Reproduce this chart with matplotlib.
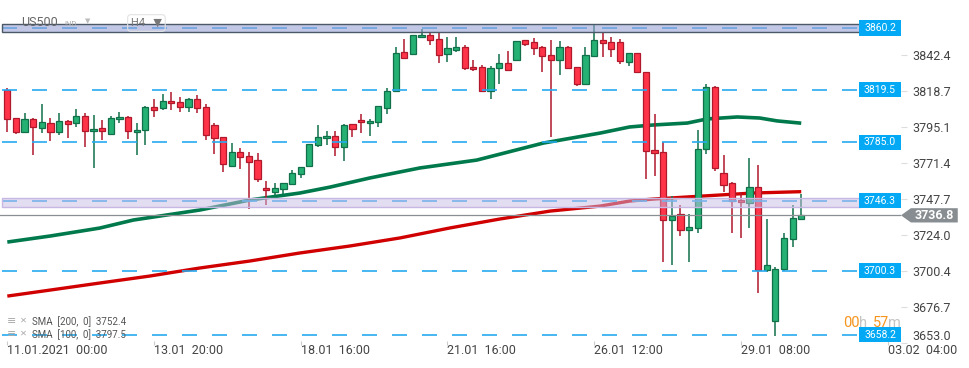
import numpy as np
import matplotlib
matplotlib.use("Agg")
import matplotlib.pyplot as plt
import matplotlib.transforms as mtransforms
from matplotlib.patches import Rectangle, Polygon

plt.rcParams['font.family'] = ['Roboto', 'DejaVu Sans']
plt.rcParams['lines.scale_dashes'] = False

# H4 candles, US500
opens = [3819.4, 3800.7, 3791.5, 3800.0, 3794.1, 3797.4, 3791.5, 3798.7, 3797.4, 3802.0,
         3792.1, 3794.1, 3790.2, 3800.0, 3801.4, 3791.5, 3792.8, 3807.9, 3807.3, 3811.9,
         3811.3, 3807.9, 3813.2, 3807.9, 3796.1, 3788.2, 3769.5, 3778.3, 3775.7, 3773.0,
         3754.6, 3752.4, 3753.9, 3757.2, 3763.8, 3769.1, 3782.9, 3787.5, 3788.8, 3781.6,
         3796.8, 3799.4, 3797.4, 3798.1, 3807.3, 3818.5, 3844.2, 3842.9, 3854.1, 3855.6,
         3852.8, 3842.9, 3845.5, 3847.5, 3834.3, 3834.3, 3818.5, 3833.6, 3836.9, 3838.9,
         3852.1, 3850.8, 3847.5, 3842.2, 3838.9, 3847.5, 3834.3, 3823.1, 3841.6, 3852.1,
         3850.8, 3850.8, 3837.6, 3843.5, 3831.0, 3779.8, 3778.3, 3733.5, 3737.5, 3726.9,
         3728.2, 3780.3, 3821.1, 3764.5, 3757.9, 3746.7, 3744.7, 3755.3, 3700.6, 3667.0,
         3701.2, 3720.9, 3734.2]
highs = [3820.7, 3800.7, 3804.2, 3800.9, 3810.1, 3800.9, 3804.2, 3799.6, 3806.8, 3804.2,
         3802.9, 3799.6, 3802.0, 3804.7, 3802.0, 3797.4, 3808.8, 3813.4, 3816.7, 3818.0,
         3814.7, 3814.1, 3816.1, 3810.1, 3797.4, 3788.2, 3784.2, 3781.0, 3778.3, 3777.7,
         3759.2, 3757.9, 3757.9, 3766.5, 3768.4, 3783.6, 3796.1, 3792.1, 3792.1, 3796.8,
         3796.8, 3803.3, 3800.0, 3808.6, 3820.5, 3847.5, 3852.8, 3855.4, 3859.4, 3857.6,
         3857.6, 3854.1, 3854.1, 3848.8, 3838.9, 3835.6, 3835.0, 3842.9, 3844.9, 3851.4,
         3852.1, 3853.4, 3848.2, 3852.1, 3851.4, 3848.2, 3834.3, 3847.5, 3862.2, 3857.6,
         3854.1, 3852.8, 3843.5, 3843.5, 3831.0, 3803.5, 3785.1, 3749.3, 3743.4, 3737.6,
         3793.0, 3823.1, 3822.0, 3776.3, 3758.6, 3752.0, 3774.4, 3769.8, 3734.2, 3702.5,
         3724.9, 3743.4, 3750.6]
lows = [3791.9, 3790.2, 3790.8, 3776.7, 3790.8, 3786.0, 3789.5, 3787.9, 3794.8, 3782.0,
        3768.2, 3786.6, 3790.2, 3797.4, 3787.3, 3776.7, 3783.3, 3801.4, 3806.0, 3806.0,
        3805.1, 3804.7, 3804.0, 3786.6, 3777.4, 3765.5, 3768.8, 3767.5, 3741.2, 3758.7,
        3743.4, 3750.4, 3750.8, 3757.2, 3761.2, 3769.1, 3781.6, 3782.9, 3775.7, 3772.4,
        3788.2, 3790.8, 3788.8, 3794.8, 3803.3, 3818.5, 3839.6, 3842.2, 3854.1, 3848.8,
        3837.3, 3838.0, 3844.2, 3832.3, 3831.7, 3817.8, 3813.6, 3823.1, 3832.3, 3838.3,
        3848.2, 3842.2, 3831.0, 3788.6, 3829.0, 3833.6, 3821.8, 3823.1, 3840.9, 3840.9,
        3840.9, 3836.3, 3835.0, 3831.0, 3760.5, 3762.9, 3706.2, 3703.9, 3723.4, 3706.2,
        3725.0, 3777.0, 3765.8, 3752.0, 3725.4, 3721.7, 3728.2, 3685.4, 3699.3, 3657.1,
        3699.9, 3715.7, 3733.5]
closes = [3800.0, 3791.5, 3800.0, 3794.8, 3798.1, 3791.5, 3798.7, 3796.8, 3802.0, 3792.1,
          3793.5, 3792.1, 3800.7, 3801.4, 3792.1, 3792.8, 3807.9, 3806.0, 3811.9, 3810.6,
          3807.9, 3813.2, 3807.3, 3789.5, 3787.5, 3770.4, 3778.3, 3775.0, 3771.7, 3760.9,
          3753.3, 3754.6, 3757.9, 3764.4, 3768.4, 3783.6, 3788.2, 3788.8, 3781.6, 3796.1,
          3793.5, 3798.1, 3798.7, 3808.6, 3818.5, 3843.5, 3840.2, 3855.4, 3855.6, 3852.1,
          3842.2, 3846.8, 3847.5, 3833.6, 3833.0, 3818.5, 3833.6, 3836.9, 3832.3, 3851.4,
          3849.5, 3846.8, 3841.6, 3838.9, 3847.5, 3833.6, 3823.1, 3842.2, 3852.1, 3850.1,
          3846.2, 3838.3, 3843.5, 3831.0, 3779.2, 3777.6, 3733.5, 3736.5, 3726.9, 3728.9,
          3780.3, 3821.1, 3767.8, 3756.6, 3746.0, 3745.4, 3755.3, 3700.6, 3703.9, 3701.2,
          3721.6, 3734.8, 3736.8]

# moving averages, read at a few candle positions
sma100_idx = [0, 5, 10.7, 14.6, 22.3, 28.1, 33.9, 37.4, 42, 47.8, 54.4, 62.1, 68.7,
              72.1, 74.8, 78.8, 81.1, 84.6, 87.2, 89.2, 92]
sma100_val = [3719.2, 3723.2, 3728.4, 3733.7, 3740.3, 3746.9, 3751.5, 3755.4, 3761.4,
              3768.0, 3773.2, 3784.4, 3791.0, 3795.0, 3796.3, 3797.6, 3800.3, 3801.6,
              3800.9, 3799.0, 3797.5]
sma200_idx = [0, 5, 10.7, 16.5, 22.3, 28.1, 33.9, 39.7, 45.5, 51.3, 57.1, 62.9, 68.7,
              72.1, 74.8, 78.8, 82.6, 86.4, 92]
sma200_val = [3683.6, 3687.6, 3692.2, 3696.8, 3702.1, 3706.7, 3712.0, 3716.6, 3721.9,
              3728.5, 3734.4, 3739.6, 3742.9, 3746.2, 3747.5, 3748.9, 3750.2, 3751.5, 3752.4]

levels = [3860.2, 3819.5, 3785.0, 3746.3, 3700.3, 3658.2]
zone_top = [3857.8, 3863.0]
zone_mid = [3742.5, 3748.4]
last_price = 3736.8

ytick_vals = [3842.4, 3818.7, 3795.1, 3771.4, 3747.7, 3724.0, 3700.4, 3676.7, 3653.0]
xtick_pos = [0, 17, 34, 51, 68, 85, 102]
xtick_lab = ['11.01.2021  00:00', '13.01  20:00', '18.01  16:00', '21.01  16:00',
             '26.01  12:00', '29.01  08:00', '03.02  04:00']

fig = plt.figure(figsize=(9.7, 3.68), dpi=100)
ax = fig.add_axes([0, 25.3 / 368, 901 / 970, 342.7 / 368])
ax.set_xlim(-0.846, 103.56)
ax.set_ylim(3652.9, 3878.65)
for s in ax.spines.values():
    s.set_visible(False)

blend = mtransforms.blended_transform_factory(ax.transAxes, ax.transData)

# candles
o = np.array(opens); h = np.array(highs); l = np.array(lows); c = np.array(closes)
x = np.arange(len(o))
up = c >= o
red_f, red_e = '#ff3448', '#b0192c'
grn_f, grn_e = '#25b173', '#11704a'
ax.vlines(x[up], l[up], h[up], color=grn_e, lw=1.1, zorder=3)
ax.vlines(x[~up], l[~up], h[~up], color=red_e, lw=1.1, zorder=3)
bh = np.maximum(np.abs(c - o), 1.0)
ax.bar(x[up], bh[up], bottom=np.minimum(o, c)[up], width=0.72,
       color=grn_f, edgecolor=grn_e, linewidth=0.9, zorder=4)
ax.bar(x[~up], bh[~up], bottom=np.minimum(o, c)[~up], width=0.72,
       color=red_f, edgecolor=red_e, linewidth=0.9, zorder=4)

# SMA lines
ax.plot(sma200_idx, sma200_val, color='#d10000', lw=2.4, zorder=2, solid_capstyle='butt')
ax.plot(sma100_idx, sma100_val, color='#007a4c', lw=2.6, zorder=2, solid_capstyle='butt')

# horizontal levels
x0, x1 = -0.61, 98.6
for lv in levels:
    ax.plot([x0, x1], [lv, lv], color='#27aaf0', lw=1.2, ls=(0, (10.8, 10.8)), zorder=5)

# zones
ax.add_patch(Rectangle((x0, zone_top[0]), 98.9 - x0, zone_top[1] - zone_top[0],
                       facecolor='#9aa2d6', alpha=0.6, edgecolor='none', zorder=6))
ax.add_patch(Rectangle((x0, zone_top[0]), 98.9 - x0, zone_top[1] - zone_top[0],
                       facecolor='none', edgecolor='#4b5868', lw=1.0, zorder=6))
ax.add_patch(Rectangle((x0, zone_mid[0]), 98.9 - x0, zone_mid[1] - zone_mid[0],
                       facecolor='#c9bde6', alpha=0.5, edgecolor='none', zorder=6))
ax.add_patch(Rectangle((x0, zone_mid[0]), 98.9 - x0, zone_mid[1] - zone_mid[0],
                       facecolor='none', edgecolor='#c6b8e2', lw=1.0, zorder=6))

# current price line + tag
ax.axhline(last_price, color='#8a8f93', lw=0.9, zorder=5)
ax.add_patch(Polygon([(1.0, last_price), (1.011, last_price + 4.7), (1.063, last_price + 4.7),
                      (1.063, last_price - 4.7), (1.011, last_price - 4.7)], closed=True,
                     transform=blend, facecolor='#878d91', edgecolor='none',
                     clip_on=False, zorder=9))
ax.text(1.037, last_price, f'{last_price:.1f}', transform=blend, ha='center', va='center',
        color='white', fontsize=9, fontweight='bold', clip_on=False, zorder=10)

# level tags
for lv in levels:
    ax.add_patch(Rectangle((859 / 901, lv - 4.95), 42 / 901, 9.9, transform=blend,
                           facecolor='#03a9f4', edgecolor='none', zorder=8, clip_on=False))
    ax.text(880 / 901, lv, f'{lv:.1f}', transform=blend, ha='center', va='center',
            color='white', fontsize=7.5, zorder=9)

# axes ticks
ax.yaxis.tick_right()
ax.set_yticks(ytick_vals)
ax.set_yticklabels([f'{v:.1f}' for v in ytick_vals])
ax.tick_params(axis='y', length=4, width=0.8, color='#dddddd', pad=4,
               labelsize=9, labelcolor='#444444')
ax.get_yticklabels()[-1].set_va('bottom')
ax.set_xticks(xtick_pos)
ax.set_xticklabels(xtick_lab, ha='left')
ax.tick_params(axis='x', length=3, width=0.8, color='#cccccc', pad=-0.5,
               labelsize=9, labelcolor='#444444', direction='inout')

# header
fig.text(21 / 970, 1 - 23 / 368, 'US500', fontsize=9, color='#666666', va='center')
fig.text(64 / 970, 1 - 24 / 368, 'IND', fontsize=5.5, color='#aaaaaa', va='center')
fig.text(85 / 970, 1 - 22 / 368, '▼', fontsize=5, color='#bbbbbb', va='center')
fig.text(131 / 970, 1 - 23 / 368, 'H4   ▼', fontsize=8, color='#777777', va='center',
         bbox=dict(boxstyle='round,pad=0.3', fc='none', ec='#e2e2e2', lw=0.8))

# indicator legend
fig.text(7 / 970, 1 - 321 / 368, '≡', fontsize=8, color='#aaaaaa', va='center')
fig.text(20 / 970, 1 - 321 / 368, '✕', fontsize=6, color='#aaaaaa', va='center')
fig.text(32 / 970, 1 - 322 / 368, 'SMA  [200,  0]  3752.4', fontsize=7, color='#555555', va='center')
fig.text(7 / 970, 1 - 334 / 368, '≡', fontsize=8, color='#aaaaaa', va='center')
fig.text(20 / 970, 1 - 334 / 368, '✕', fontsize=6, color='#aaaaaa', va='center')
fig.text(32 / 970, 1 - 335 / 368, 'SMA  [100,  0]  3797.5', fontsize=7, color='#555555', va='center')

# countdown
fig.text(843 / 970, 1 - 323 / 368, '00', fontsize=10.5, color='#f7941d', va='center')
fig.text(859 / 970, 1 - 323 / 368, 'h', fontsize=10.5, color='#c4c4c4', va='center')
fig.text(873 / 970, 1 - 323 / 368, '57', fontsize=10.5, color='#f7941d', va='center')
fig.text(888 / 970, 1 - 323 / 368, 'm', fontsize=10.5, color='#c4c4c4', va='center')

fig.savefig('out.png', dpi=100)
